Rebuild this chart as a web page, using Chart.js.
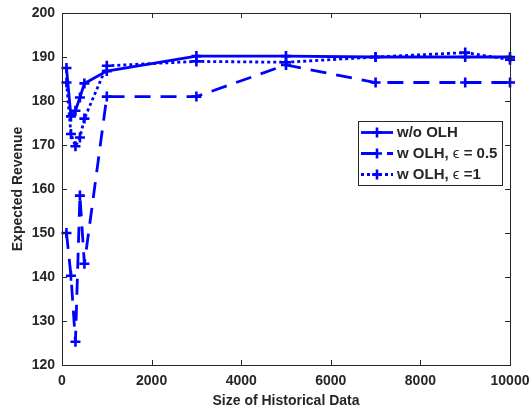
<!DOCTYPE html>
<html>
<head>
<meta charset="utf-8">
<title>Expected Revenue vs Size of Historical Data</title>
<script src="https://cdn.jsdelivr.net/npm/chart.js@4.4.0/dist/chart.umd.min.js"></script>
<style>
  html, body { margin: 0; padding: 0; background: #fff; }
  #wrap { width: 532px; height: 410px; }
</style>
</head>
<body>
<div id="wrap"><canvas id="revenueChart" width="532" height="410"></canvas></div>
<script>
// data
const sizes = [100, 200, 300, 400, 500, 1000, 3000, 5000, 7000, 9000, 10000];
const noOlh = [187.5, 176.5, 177.8, 180.8, 184, 186.8, 190.2, 190.2, 190, 190, 190];
const olhEps05 = [150, 140.3, 125.3, 158.5, 143, 181, 181, 188.2, 184.2, 184.2, 184.2];
const olhEps1 = [184.2, 172.5, 169.7, 171.7, 176, 188, 189, 188.8, 190, 191, 189.4];
const seriesNames = ["w/o OLH", "w OLH, \u03f5 = 0.5", "w OLH, \u03f5 =1"];
const xTicks = [0, 2000, 4000, 6000, 8000, 10000];
const yTicks = [120, 130, 140, 150, 160, 170, 180, 190, 200];

const BLUE = "#0000ff";
const AXIS = "#262626";
const FONT = "'Liberation Sans', Arial, Helvetica, sans-serif";

function pts(ys) {
    return sizes.map((x, i) => ({ x: x, y: ys[i] }));
}

function series(label, ys, dash) {
    return {
        label: label,
        data: pts(ys),
        borderColor: BLUE,
        backgroundColor: BLUE,
        borderWidth: 2.8,
        borderDash: dash,
        pointStyle: "cross",
        pointRadius: 5,
        pointBorderWidth: 2.6,
        pointBorderColor: BLUE,
        pointHoverRadius: 5,
        tension: 0,
        clip: false
    };
}

// box, inward ticks on all sides, legend in upper right
const matlabAxes = {
    id: "matlabAxes",
    afterDraw(chart) {
        const ctx = chart.ctx;
        const a = chart.chartArea;
        const xs = chart.scales.x, ys = chart.scales.y;
        const tl = 5;
        ctx.save();
        ctx.strokeStyle = AXIS;
        ctx.lineWidth = 1;
        ctx.beginPath();
        xTicks.forEach(v => {
            const px = Math.round(xs.getPixelForValue(v)) + 0.5;
            ctx.moveTo(px, a.bottom); ctx.lineTo(px, a.bottom - tl);
            ctx.moveTo(px, a.top); ctx.lineTo(px, a.top + tl);
        });
        yTicks.forEach(v => {
            const py = Math.round(ys.getPixelForValue(v)) + 0.5;
            ctx.moveTo(a.left, py); ctx.lineTo(a.left + tl, py);
            ctx.moveTo(a.right, py); ctx.lineTo(a.right - tl, py);
        });
        ctx.stroke();
        ctx.strokeRect(Math.round(a.left) + 0.5, Math.round(a.top) + 0.5,
            Math.round(a.right - a.left), Math.round(a.bottom - a.top));

        // legend
        const boxR = a.right - 8, boxT = a.top + 108;
        const rowH = 21, sampleW = 32;
        const bold = "bold 15px " + FONT, plain = "15px " + FONT;
        const pieces = seriesNames.map(n => n.split("\u03f5"));
        const widthOf = parts => {
            let w = 0;
            parts.forEach((p, i) => {
                ctx.font = bold; w += ctx.measureText(p).width;
                if (i < parts.length - 1) { ctx.font = plain; w += ctx.measureText("\u03f5").width; }
            });
            return w;
        };
        const textW = Math.max(...pieces.map(widthOf));
        const boxW = Math.round(3 + sampleW + 4 + textW + 5);
        const boxH = rowH * 3 + 1;
        const boxL = Math.round(boxR - boxW);
        ctx.fillStyle = "#fff";
        ctx.fillRect(boxL, boxT, boxW, boxH);
        ctx.strokeStyle = AXIS;
        ctx.strokeRect(boxL + 0.5, boxT + 0.5, boxW, boxH);
        chart.data.datasets.forEach((ds, i) => {
            const cy = boxT + 11.5 + i * rowH;
            const x0 = boxL + 3, x1 = x0 + sampleW;
            ctx.strokeStyle = ds.borderColor;
            ctx.lineWidth = ds.borderWidth;
            ctx.setLineDash(ds.borderDash || []);
            ctx.beginPath();
            ctx.moveTo(x0, cy); ctx.lineTo(x1, cy);
            ctx.stroke();
            ctx.setLineDash([]);
            ctx.lineWidth = ds.pointBorderWidth;
            const mx = (x0 + x1) / 2, r = ds.pointRadius;
            ctx.beginPath();
            ctx.moveTo(mx - r, cy); ctx.lineTo(mx + r, cy);
            ctx.moveTo(mx, cy - r); ctx.lineTo(mx, cy + r);
            ctx.stroke();
            ctx.fillStyle = AXIS;
            ctx.textBaseline = "middle";
            ctx.textAlign = "left";
            let tx = x1 + 4;
            pieces[i].forEach((p, k) => {
                ctx.font = bold; ctx.fillText(p, tx, cy); tx += ctx.measureText(p).width;
                if (k < pieces[i].length - 1) {
                    ctx.font = plain; ctx.fillText("\u03f5", tx, cy); tx += ctx.measureText("\u03f5").width;
                }
            });
        });
        ctx.restore();
    }
};

new Chart(document.getElementById("revenueChart"), {
    type: "line",
    data: {
        datasets: [
            series(seriesNames[0], noOlh, []),
            series(seriesNames[1], olhEps05, [16, 10]),
            series(seriesNames[2], olhEps1, [3, 3])
        ]
    },
    options: {
        responsive: false,
        animation: false,
        events: [],
        layout: { padding: { top: 13, right: 22, bottom: 0, left: 0 } },
        plugins: {
            legend: { display: false },
            tooltip: { enabled: false }
        },
        scales: {
            x: {
                type: "linear",
                min: 0,
                max: 10000,
                afterBuildTicks: s => { s.ticks = xTicks.map(v => ({ value: v })); },
                afterFit: s => { s.height = 45; s.paddingLeft = 0; s.paddingRight = 0; },
                grid: { display: false, drawTicks: false },
                border: { display: false },
                ticks: {
                    padding: 8,
                    maxRotation: 0,
                    color: AXIS,
                    font: { family: FONT, size: 14, weight: "bold" },
                    callback: v => String(v)
                },
                title: {
                    display: true,
                    text: "Size of Historical Data",
                    color: AXIS,
                    padding: { top: 0, bottom: 0 },
                    font: { family: FONT, size: 14, weight: "bold" }
                }
            },
            y: {
                min: 120,
                max: 200,
                afterBuildTicks: s => { s.ticks = yTicks.map(v => ({ value: v })); },
                afterFit: s => { s.width = 62; s.paddingTop = 0; s.paddingBottom = 0; },
                grid: { display: false, drawTicks: false },
                border: { display: false },
                ticks: {
                    padding: 7,
                    color: AXIS,
                    font: { family: FONT, size: 14, weight: "bold" }
                },
                title: {
                    display: true,
                    text: "Expected Revenue",
                    color: AXIS,
                    padding: { top: 10, bottom: 0 },
                    font: { family: FONT, size: 14, weight: "bold" }
                }
            }
        }
    },
    plugins: [matlabAxes]
});
</script>
</body>
</html>
